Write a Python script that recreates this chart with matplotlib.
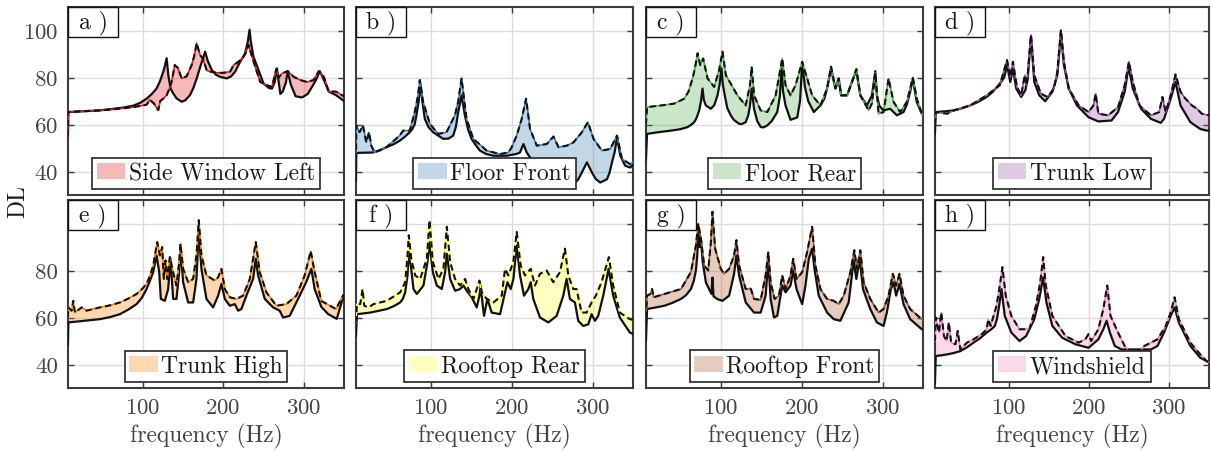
import numpy as np
import matplotlib
matplotlib.use('Agg')
import matplotlib.pyplot as plt
from matplotlib.patches import Rectangle

plt.rcParams['font.family'] = 'serif'
plt.rcParams['font.serif'] = ['cmr10', 'DejaVu Serif']
plt.rcParams['mathtext.fontset'] = 'cm'
plt.rcParams['axes.formatter.use_mathtext'] = True

# ---------------- data ----------------
names = ['Side Window Left', 'Floor Front', 'Floor Rear', 'Trunk Low',
         'Trunk High', 'Rooftop Rear', 'Rooftop Front', 'Windshield']
panel_labels = ['a )', 'b )', 'c )', 'd )', 'e )', 'f )', 'g )', 'h )']
line_colors = ['#e41a1c', '#377eb8', '#4daf4a', '#984ea3',
               '#ff7f00', '#ffff33', '#a65628', '#f781bf']
x_ticks = [100, 200, 300]
y_ticks = [40, 60, 80, 100]

# a) Side Window Left
fa_mod = [7.4, 7.8, 46.9, 62, 76, 88.4, 97, 105, 111, 117.4, 121.5, 125.7, 127.8, 129.9, 132,
          134.8, 138.1, 142.3, 148.5, 153, 158.9, 163, 167.2, 172, 175, 177.6, 181, 185.9, 191, 196.2,
          204.5, 210, 214.9, 221.1, 227, 230.5, 232.8, 234.5, 237.5, 241.9, 250.2, 257, 260.6, 264, 266.8,
          269, 271, 274, 278, 280, 284, 290, 297.9, 305, 312, 316, 319.9, 323, 325, 331.1, 340, 350]
ya_mod = [55, 65.3, 66, 66.6, 67.2, 68, 69.2, 71, 72.8, 75.3, 78.3, 82.4, 85, 88.2, 81,
          75.3, 73.2, 71.1, 69.7, 70.3, 72.5, 75.5, 79.6, 85, 88, 91, 87, 83.2, 81.2, 80.3,
          79.6, 80.5, 82.5, 86.7, 90, 95, 100.3, 95, 89, 85, 77.4, 75.5, 75.3, 78, 83.9,
          78, 73, 74, 78, 82.7, 77, 72, 71.5, 73, 77, 79.5, 82.7, 80.5, 79, 74, 72.5, 70]
fa_mea = [7.4, 7.8, 46.9, 62, 76, 88.4, 97, 105, 109, 114, 119.5, 122, 125.7, 130, 133,
          136, 140, 144, 148.5, 154.7, 161, 164, 167.2, 171.3, 175, 179.7, 183.8, 192, 200.4, 208.7,
          213, 219, 224, 228, 231.5, 234, 237.8, 246, 254.4, 260.6, 266, 269, 273, 280, 287.6,
          295.9, 304, 312.4, 318.7, 325, 331.1, 340, 350]
ya_mea = [55, 65.3, 66, 66.4, 66.9, 67.4, 67.9, 68.4, 70.5, 69, 66.1, 70, 71, 72.5, 75,
          78.1, 85.3, 84, 79.6, 80.5, 85.3, 89, 94.6, 89.6, 88, 83, 82.5, 82, 82, 82.5,
          85.3, 86.7, 88.1, 90.5, 93.9, 91, 86.7, 78.1, 76.7, 76, 83.6, 80, 81.7, 82.7, 80.3,
          78.9, 78.1, 78.9, 82.7, 80.3, 74, 74, 72]

# b) Floor Front
fb_mod = [7.4, 7.9, 28.5, 37, 45, 54, 61.6, 68, 74, 77, 80, 82.2, 85, 87.2, 89.5,
          92.6, 97, 102.9, 115.3, 122, 127.7, 131, 133.9, 138, 142.1, 146, 150.4, 155, 160.7, 168,
          177.3, 193.8, 206, 210.3, 214.5, 218.6, 226.9, 235, 243.4, 250, 259.9, 268, 276.4, 282, 286.8,
          293, 299.2, 304, 309.5, 317.8, 321, 324, 327.5, 330.2, 334.3, 340.5, 346.7, 350]
yb_mod = [36, 47.9, 48.1, 49, 50.3, 51.6, 53.1, 54.8, 56.7, 58, 60, 63.9, 70, 77.4, 70,
          62.4, 59, 56.7, 53.9, 54, 55.3, 59, 65.3, 72.4, 63.9, 58, 53.9, 51.5, 48.9, 47.5,
          46.7, 46.7, 47.5, 48.1, 51.7, 48.1, 43.9, 40.8, 38.1, 36.5, 34.6, 34.2, 34.6, 36.5, 39.6,
          43.9, 39.6, 36.8, 35.3, 36.7, 39.5, 43.9, 48.5, 54.6, 46.7, 42.4, 41.7, 43]
fb_mea = [7.4, 7.9, 12, 16.1, 20.2, 23.6, 26.4, 30.6, 45, 61.6, 65.7, 74, 80.2, 84, 86.4,
          90.5, 98.8, 109.1, 119.4, 129.8, 134, 138, 144.2, 152.5, 169, 185.5, 195.9, 200, 206.2,
          212.4, 217.8, 222.7, 231, 243.4, 251.7, 257.9, 268.2, 276.4, 286.8, 294.2, 301.2, 311.6,
          321.9, 330.2, 336.4, 346.7, 350]
yb_mea = [45, 59.6, 56.7, 59.6, 52.4, 56.7, 51, 48.1, 50.3, 55.3, 57.4, 57.4, 65.3, 72, 78.9,
          69.6, 60.3, 56, 56.7, 63.9, 70, 79.6, 62.4, 53.9, 48.9, 47.4, 48.1, 50.3, 55.3,
          62.4, 71, 58.1, 51, 51.7, 54.9, 50.3, 51, 52.4, 56.7, 61, 53.9, 48.9,
          49.6, 55.3, 45.3, 43.1, 44]

# c) Floor Rear
fc_mod = [7.4, 8.8, 20, 38.4, 50, 58.9, 63, 67.1, 70, 73.3, 75.5, 77.4, 79, 81.5, 87.7,
          92, 95.9, 98.5, 100.8, 102.5, 104.9, 108, 112.3, 116, 122.6, 126, 130.8, 134, 136.1, 138.2,
          140, 141.1, 145, 149.3, 153, 157.5, 163, 169.8, 173, 175.2, 177, 180.1, 186.2, 194.5, 198,
          200.6, 204, 208, 215, 223.2, 228, 231.4, 236.3, 241.7, 245.8, 248.7, 256.1, 262.2, 267.6, 272.5,
          280.7, 286.9, 291, 293, 296, 301.2, 309.4, 317.7, 325.9, 330, 334.1, 337.4, 342.3, 348.5, 350]
yc_mod = [45, 56, 56.6, 57.4, 58, 58.9, 59.8, 61, 62.8, 66, 70, 75.3, 70.5, 68.1, 66.7,
          68.3, 72.4, 77, 83.9, 77, 72.4, 67, 63.9, 62, 60.3, 60.2, 61, 64, 68.1, 75.3,
          70, 66.7, 61.5, 58.9, 58.8, 59.6, 61.5, 65.3, 72, 84, 74, 68, 62, 63, 70,
          86, 76, 70, 65.3, 68.1, 71, 75.3, 83.9, 75.3, 79.6, 72.4, 72.4, 78.1, 83.1, 72.4,
          68.1, 72.4, 82.7, 72.4, 68, 66, 66.7, 63.9, 65.3, 68.5, 73.9, 79.6, 69.6, 64.6, 64]
fc_mea = [7.4, 8.8, 26.1, 42.5, 54.8, 60, 65.1, 68, 71.3, 74.5, 78.2, 83.6, 91.8, 97.9, 102.1,
          106.2, 112.3, 120.5, 130.8, 136.1, 138.2, 141.1, 149.3, 157.5, 167.8, 176, 180.1, 186.2, 192.4,
          200.6, 206.8, 212.9, 223.2, 231.4, 236.3, 241.7, 245.8, 248.7, 256.1, 262.2, 267.6, 272.5, 282.8,
          286.9, 291, 295.1, 301.2, 307.4, 313.6, 321.8, 330, 337.4, 342.3, 348.5, 350]
yc_mea = [60, 67.4, 68.1, 68.9, 71, 74, 79.6, 84, 90.3, 85.3, 88.1, 79.6, 76, 83.1, 91,
          81, 77.4, 72.4, 68.1, 76.7, 84.6, 72.4, 66, 65.3, 72.4, 88.1, 76.7, 72.4, 76.7,
          86.7, 79.6, 72.4, 68.1, 75.3, 84.6, 75.3, 79.6, 72.4, 72.4, 78.1, 83.6, 72.4, 66,
          69, 82, 64.6, 65.3, 79.6, 69.6, 65.3, 69.6, 79.9, 71, 64.6, 64]

# d) Trunk Low
fd_mod = [7.4, 8.4, 20, 31, 41, 51.5, 62, 72.1, 80, 88.5, 94, 97.5, 101.6, 104.9, 109,
          115.2, 120.5, 123.4, 127.5, 131.6, 137.8, 145.2, 154.2, 160.4, 164.9, 168.6, 174.7, 185, 199.4,
          211.7, 228.1, 236.3, 244.6, 249.5, 254.8, 265.1, 277.4, 289.7, 293.8, 302.1, 308.2, 314.4, 326.7,
          339, 347.2, 350]
yd_mod = [56, 65.3, 65.6, 66, 66.9, 68.1, 69.7, 71.7, 74, 77.4, 80, 85.3, 78.1, 84, 75.3,
          71.7, 74.6, 79.6, 97.4, 78.1, 72.4, 69.9, 73.9, 81, 98.9, 85.3, 75.3, 68.1, 63.1,
          61.3, 61.7, 65.3, 73.9, 84.6, 75.3, 66.7, 62.4, 60.7, 62.4, 71, 78.1, 68.1, 61,
          58.1, 57.4, 57.5]
fd_mea = [7.4, 8.4, 22.8, 31, 51.5, 72.1, 88.5, 97.5, 101.6, 104.9, 109.9, 115.2, 119.7, 122.2, 127.5,
          131.6, 139.8, 148, 156.3, 160.4, 164.9, 168.6, 174.7, 187.1, 199.4, 205.5, 208.4, 211.7, 224,
          236.3, 244.6, 249.9, 254.8, 263, 277.4, 287.7, 291.8, 295.9, 302.1, 308.2, 314.4, 320.5, 328.7,
          334.9, 341.1, 347.2, 350]
yd_mea = [60, 65.3, 64.6, 66, 68.1, 72.4, 76.7, 87.4, 80.3, 86.7, 76, 72.4, 81, 76.7, 98.1,
          81, 73.1, 71.7, 75.3, 82.4, 100.3, 86.7, 75.3, 68.1, 65.3, 68.1, 73.1, 64.6, 63.9,
          67.4, 76.7, 86.7, 78.1, 68.1, 63.9, 65.3, 71.7, 65.3, 72.4, 81.3, 73.9, 71, 68.1,
          66.7, 64.6, 64.1, 64]

# e) Trunk High
fe_mod = [7.4, 7.9, 25, 47.1, 60, 71.9, 82, 92.6, 99, 105, 109, 113.2, 117.4, 120.7, 122.7,
          127.7, 131.8, 134.7, 138, 142.1, 145.5, 147.1, 150.4, 156.6, 162.8, 166.9, 169.8, 173.1, 179.3,
          187.6, 193.8, 197.9, 202.1, 208.3, 214.5, 218.6, 222.7, 228.9, 237.2, 240.5, 243.4, 251.7, 262,
          270.2, 274.4, 282.6, 295, 303, 309.5, 313.6, 321.9, 330.2, 341, 349, 350]
ye_mod = [48, 57.9, 58.5, 59.3, 60.2, 61.4, 63.3, 65.7, 68.3, 72.1, 75.5, 79.3, 86.4, 79.3, 67.9,
          67.1, 72.1, 85, 67.9, 67.9, 79.3, 90, 75, 66.4, 66.4, 76.4, 96.4, 80.7, 67.9,
          64.3, 69.3, 74.3, 67.9, 65, 65.7, 62.9, 63.6, 69.3, 76.4, 85, 77.9, 67.9, 64.3,
          62.9, 60, 60.7, 69.3, 75, 80.7, 72.1, 64.5, 61.5, 59.4, 68.8, 69]
fe_mea = [7.4, 7.9, 12, 14, 16.1, 24.4, 30.6, 47.1, 60, 71.9, 82, 92.6, 99, 105, 109,
          113.2, 118.2, 121.5, 124.4, 126.4, 128.5, 130.6, 133.9, 138, 142.1, 145.5, 147.1, 150.4, 156.6,
          162.8, 166.9, 169.8, 173.1, 179.3, 189.7, 193.8, 197.9, 202.1, 208.3, 216.5, 224.8, 233.1, 240.5,
          245.5, 253.7, 266.1, 278.5, 290.9, 301.2, 308.7, 313.6, 321.9, 330.2, 340, 349, 350]
ye_mea = [60, 64.3, 62.9, 67.1, 62.1, 64.3, 62.9, 64.3, 65.2, 66.4, 68, 70, 72, 74.3, 77.5,
          82.1, 92.1, 86.4, 90, 76.4, 84.3, 76.4, 85.7, 79.3, 73.6, 83.6, 91.4, 80.7, 75,
          76.4, 86.4, 101.4, 86.4, 77.9, 75.7, 77.1, 80.7, 72.1, 68.6, 67.9, 69.3, 76.4, 92.1,
          79.3, 70.7, 65, 65.7, 69.3, 77.9, 88.3, 79.3, 67, 65.5, 63.6, 69.5, 70]

# f) Rooftop Rear
ff_mod = [7.4, 8.6, 25.1, 35, 45.7, 54, 62.1, 65.5, 68.3, 71.2, 72.8, 75.3, 78.6, 82.7, 90.9,
          95.9, 98.4, 102.5, 107.4, 113.6, 117.7, 119.8, 123.9, 130, 136.2, 140.3, 144.4, 150.6, 156.8,
          160.1, 161.7, 163.8, 165.8, 170, 175.3, 185.6, 191.8, 194.7, 198.8, 202.1, 206.2, 210.3, 215.2,
          220.6, 223.5, 226.7, 235, 245.3, 255.6, 263.8, 267.9, 272, 278.2, 282.3, 288.5, 294.7, 298.8,
          302.9, 307, 313.2, 319.8, 325.5, 333.7, 346.1, 350]
yf_mod = [52, 61.4, 62.1, 62.8, 63.6, 64.8, 66.4, 68, 70.7, 77.9, 87.9, 82.1, 72.1, 70, 73.6,
          83.6, 92.1, 79.3, 73.6, 72.1, 79.3, 87.1, 76.4, 71.4, 72.1, 73.6, 71.4, 68.6, 64.3,
          69.3, 73.6, 66.4, 60.7, 67.9, 62.1, 61.4, 70.7, 75, 72.1, 76.4, 90.7, 77.9, 69.3,
          72.1, 75, 67.9, 60, 57.9, 60.7, 69.3, 76.4, 67.9, 66.4, 58.6, 56.4, 57.1, 61.4,
          58.6, 60.7, 69.3, 80.7, 69.3, 60, 53.6, 53]
ff_mea = [7.4, 8.6, 12.8, 15.6, 17.7, 23, 29.2, 45.7, 62.1, 68.3, 71.2, 72.8, 76.1, 80.7, 86.8,
          95.1, 98.4, 102.5, 109.5, 115.6, 119.8, 123.9, 130, 136.2, 142.4, 146.5, 152.7, 156.8, 160.1,
          163, 169.1, 177.4, 187.7, 191.8, 195.9, 202.1, 206.2, 211.1, 216.5, 223.5, 228.8, 235, 243.2,
          251.4, 259.7, 265.8, 270, 276.1, 280.2, 286.4, 292.6, 298.8, 304.1, 311.1, 320.2, 325.5, 333.7,
          346.1, 350]
yf_mea = [58, 65.7, 65.7, 72.1, 65, 64.3, 65.7, 67.1, 70.7, 75, 86.4, 95, 84.3, 77.9, 76.4,
          85, 101.4, 83.6, 76.4, 80.7, 98.6, 83.6, 76.4, 73.6, 76.4, 72.1, 67.9, 72.1, 75.7,
          70.7, 67.9, 66.4, 69.3, 80.7, 77.9, 83.6, 96.4, 82.1, 77.9, 80.7, 73.6, 78.6, 80,
          75, 79.3, 89.3, 77.9, 72.1, 72.1, 62.1, 62.1, 66.4, 69.3, 75, 85.7, 73.6, 62.1,
          59.3, 59]

# g) Rooftop Front
fg_mod = [7.4, 8.8, 20, 30.2, 40, 50.7, 57, 63, 66.5, 69.2, 70.8, 72.5, 74, 75.4, 77.5,
          81.5, 85.6, 88.5, 89.7, 91, 95.9, 102.1, 110.3, 116.4, 119.3, 122.6, 130.8, 141.1, 149.3,
          155.4, 158.7, 161.6, 165.7, 169.8, 173.9, 176, 180.1, 186.2, 189.5, 193.6, 200.6, 204.7, 208.8,
          212.9, 215.8, 221.1, 231.4, 239.6, 247.8, 258.1, 264.3, 267.6, 271.7, 275.8, 284.8, 293, 301.2,
          305.3, 310.3, 313.6, 316.8, 320.9, 325.9, 334.1, 348.5, 350]
yg_mod = [50, 63.6, 64.3, 65, 66.2, 67.9, 69.5, 72.1, 75.5, 80, 86, 97, 90, 93.5, 84,
          75, 72, 70, 77, 69, 67.8, 67.1, 69.3, 78.6, 86.4, 77.9, 66.4, 62.1, 62.1,
          69.3, 84, 67.9, 60, 60.7, 69.3, 73.6, 70.7, 73.6, 80, 72.1, 65.7, 73.6, 85,
          89.3, 80.7, 69.3, 62.1, 59.3, 58.6, 66.4, 84.3, 76.4, 85, 72.1, 63.6, 57.9, 56.4,
          62.1, 72.1, 75, 69.3, 74.3, 65.7, 59.3, 55, 55]
fg_mea = [7.4, 8.8, 12.9, 15, 17, 30.2, 50.7, 63, 69.2, 72.1, 75.4, 79.5, 84.4, 87.7, 89.7,
          93, 100, 104, 110.3, 116.4, 119.3, 122.6, 130.8, 137, 141.1, 149.3, 155.4, 158.7, 161.6,
          166.5, 171.9, 176, 180.1, 186.2, 189.5, 193.6, 200.6, 206.8, 212.9, 217, 223.2, 231.4, 239.6,
          245.8, 252, 260.2, 265.1, 268.4, 272.5, 276.6, 284.8, 295.1, 301.2, 307.4, 312.7, 316.8, 320.9,
          325.9, 334.1, 348.5, 350]
yg_mea = [60, 69.3, 70, 72.1, 68.6, 70, 72.1, 79.3, 90.7, 100, 93.5, 82.1, 80, 92, 105,
          89.3, 80.7, 78.6, 80.7, 86.4, 92.9, 82.1, 72.1, 72.4, 67.9, 67.5, 77.9, 87.9, 75,
          67.9, 69.3, 77.9, 72.1, 77.9, 85, 76.4, 79.3, 87.9, 98.6, 82.1, 72.1, 67.9, 67.1,
          65.7, 69.3, 79.3, 88.6, 80.7, 88.6, 75, 67.9, 62.1, 63.6, 69.3, 78.6, 73.6, 78.6,
          69.3, 63.6, 59.3, 59]

# h) Windshield
fh_mod = [7.4, 8.4, 15, 22.8, 31, 39.2, 47.4, 55.6, 64, 72.1, 78, 82.3, 85, 87.7, 90.6,
          94.7, 102.9, 113.1, 121.4, 131.6, 137.8, 142.7, 146.8, 154.2, 166.5, 183, 199.4, 211.7, 217.9,
          222, 226.1, 232.2, 240.5, 256.9, 277.4, 285.6, 293.8, 302.1, 307, 312.3, 326.7, 339, 347.2, 350]
yh_mod = [32, 43.6, 43.9, 44.3, 44.9, 45.7, 47.3, 49.3, 51.2, 53.6, 55, 56.4, 59.5, 65, 72.1,
          60.7, 53.6, 50, 52.1, 59.3, 67.9, 77.1, 66.4, 56.4, 51.4, 48.6, 47.1, 50.7, 55,
          58.6, 53.6, 47.9, 46.4, 46.4, 46.4, 47.9, 53.6, 60.7, 64.3, 57.9, 47.9, 42.9, 41.4, 41]
fh_mea = [7.4, 8.4, 12.5, 15.4, 18.7, 22, 24.8, 27.7, 33.1, 35.9, 39.2, 47.4, 55.6, 65.9, 72.1,
          74.1, 77, 84.4, 88.5, 91.8, 95.9, 102.9, 113.1, 125.5, 133.7, 139, 142.7, 146, 154.2,
          170.6, 187.1, 195.3, 199.4, 202.7, 211.7, 217.9, 222.8, 226.9, 236.3, 244.6, 252.8, 261, 269.2,
          277.4, 285.6, 295.9, 302.1, 307, 312.3, 326.7, 339, 347.2, 350]
yh_mea = [50, 60, 53.6, 62.1, 52.1, 50, 57.9, 49.3, 48.6, 54.3, 46.4, 49.3, 50.7, 52.9, 55,
          59.3, 56.4, 65, 73.6, 81.4, 69.3, 60.7, 55, 55, 65, 75, 85.7, 73.6, 60.7,
          52.1, 49.3, 50.7, 52.9, 50, 55, 63.6, 73.6, 60.7, 53.6, 47.9, 45, 45, 47.9,
          49.3, 50.7, 56.4, 62.1, 68.6, 59.3, 49.3, 44.3, 41.4, 41]

model_f = [fa_mod, fb_mod, fc_mod, fd_mod, fe_mod, ff_mod, fg_mod, fh_mod]
model_y = [ya_mod, yb_mod, yc_mod, yd_mod, ye_mod, yf_mod, yg_mod, yh_mod]
meas_f = [fa_mea, fb_mea, fc_mea, fd_mea, fe_mea, ff_mea, fg_mea, fh_mea]
meas_y = [ya_mea, yb_mea, yc_mea, yd_mea, ye_mea, yf_mea, yg_mea, yh_mea]

# ---------------- layout ----------------
W, H = 1211, 452
fig = plt.figure(figsize=(W / 100, H / 100), dpi=100)
fig.patch.set_facecolor('white')
lefts = [68, 356, 646, 935]
widths = [276, 277, 277, 274]
tops = [8, 201]
hgt = 188
gray = '#444444'
spine_col = '#3c3c3c'

for i in range(8):
    r, c = divmod(i, 4)
    ax = fig.add_axes([lefts[c] / W, 1 - (tops[r] + hgt) / H, widths[c] / W, hgt / H])
    fm, ym = np.array(meas_f[i]), np.array(meas_y[i])
    fo, yo = np.array(model_f[i]), np.array(model_y[i])
    ax.fill(np.concatenate([fm, fo[::-1]]), np.concatenate([ym, yo[::-1]]),
            facecolor=line_colors[i], alpha=0.3, lw=0, label=names[i], zorder=2)
    ax.plot(fo, yo, color='#111111', lw=1.6, zorder=3, solid_joinstyle='round')
    ax.plot(fm, ym, color=line_colors[i], lw=1.2, zorder=4)
    ax.plot(fm, ym, color='#111111', lw=1.5, ls=(0, (3, 1.8)), zorder=5)

    ax.set_xlim(7.5, 350)
    ax.set_ylim(30, 110)
    ax.set_xticks(x_ticks)
    ax.set_yticks(y_ticks)
    ax.grid(True, color='#dcdcdc', lw=1.0)
    ax.set_axisbelow(True)
    ax.tick_params(direction='in', top=True, right=True, length=4, width=1.0,
                   color=spine_col, labelcolor=gray, labelsize=16.5, pad=7)
    for s in ax.spines.values():
        s.set_color(spine_col)
        s.set_linewidth(1.5)
    if r == 0:
        ax.tick_params(labelbottom=False)
    else:
        ax.set_xlabel('frequency (Hz)', fontsize=17, color=gray, labelpad=4)
        if c == 0:
            ax.set_yticklabels(['40', '60', '80', ''])
    if c != 0:
        ax.tick_params(labelleft=False)

    leg = ax.legend(loc='lower center', fontsize=17, frameon=True, fancybox=False,
                    edgecolor='#262626', framealpha=1, borderpad=0.2, handlelength=1.2,
                    handletextpad=0.15, borderaxespad=0.25)
    leg.get_frame().set_linewidth(1.2)
    leg.set_zorder(20)
    for t in leg.get_texts():
        t.set_color('#1a1a1a')

    bw, bh = 50 / widths[c], 30 / hgt
    ax.add_patch(Rectangle((0, 1 - bh), bw, bh, transform=ax.transAxes, facecolor='white',
                           edgecolor='#111111', lw=1.0, zorder=15, clip_on=False))
    ax.text(bw / 2, 1 - bh / 2, panel_labels[i], transform=ax.transAxes, ha='center',
            va='center', fontsize=17, color='#1a1a1a', zorder=16)

fig.text(18 / W, 1 - 202 / H, 'DL', rotation=90, ha='center', va='center', fontsize=17,
         color='#1a1a1a')

fig.savefig('out.png', dpi=100)
